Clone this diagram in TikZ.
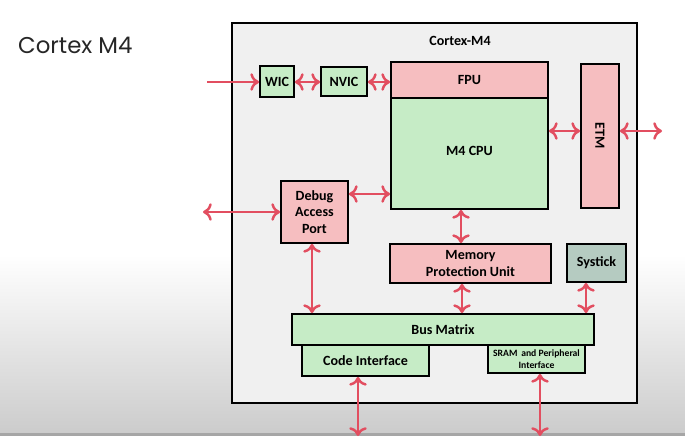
\documentclass[tikz,border=0pt]{standalone}
\usepackage{fontspec}
\setmainfont{Carlito}
\newfontfamily\slidefont{Poppins}
\usetikzlibrary{arrows.meta,fit}
\definecolor{cpink}{RGB}{246,190,192}
\definecolor{cgreen}{RGB}{198,236,198}
\definecolor{cgrey}{RGB}{181,203,193}
\definecolor{cred}{RGB}{226,78,96}
\definecolor{cbox}{RGB}{240,240,240}
\newcommand{\block}[5]
{   \node[draw, line width=1pt, fill=#1, inner sep=0pt, fit={(#3) (#4)}] (#2) {};
    \node[font=\bfseries\fontsize{8}{9.5}\selectfont, align=center] (#2-txt) at (#2.center) {#5};
}
\tikzset{>={Computer Modern Rightarrow[length=5pt,width=10pt]}}

\begin{document}
\begin{tikzpicture}[x=0.02cm, y=-0.02cm,
   link/.style={<->, draw=cred, line width=1.4pt}]

   \useasboundingbox (0,0) rectangle (685,436);
   \fill[white] (0,0) rectangle (685,436);
   \shade[top color=white, bottom color=black!20] (0,255) rectangle (685,433);
   \fill[black!35] (0,433) rectangle (685,436);
   \node[anchor=west, text=black!85, font=\slidefont\fontsize{13}{15}\selectfont] (slide) at (12,45) {Cortex M4};

   \draw[line width=1pt, fill=cbox] (232,23) rectangle (637,403);
   \node[font=\bfseries\fontsize{8}{9.5}\selectfont] (chip) at (460,41) {Cortex-M4};

   \block{cgreen}{wic}{260,66}{294,97}{WIC}
   \block{cgreen}{nvic}{321,67}{367,96}{NVIC}
   \block{cgreen}{cpu}{391,98}{548,209}{\raisebox{0.12cm}{M4 CPU}}
   \block{cpink}{fpu}{391,62}{548,98}{FPU}
   \block{cpink}{etm}{581,64}{619,208}{\rotatebox{-90}{ETM}}
   \block{cpink}{dap}{281,181}{348,243}{Debug\\Access\\Port}
   \block{cpink}{mpu}{390,244}{551,283}{Memory\\Protection Unit}
   \block{cgrey}{tick}{567,244}{626,282}{Systick}
   \block{cgreen}{bus}{292,314}{594,345}{Bus Matrix}
   \block{cgreen}{code}{302,345}{429,376}{Code Interface}
   \block{cgreen}{sram}{488,345}{585,373}{\fontsize{5.5}{6}\selectfont SRAM\, and Peripheral\\[-3pt]\fontsize{5.5}{6}\selectfont Interface}

   % outside ends
   \coordinate (irq) at (207,82);
   \coordinate (dbg) at (203,212);
   \coordinate (trace) at (662,131);
   \coordinate (codebus) at (358,436);
   \coordinate (sysbus) at (540,436);

   \draw[->, draw=cred, line width=1.4pt] (irq) -- (wic.west |- irq);
   \draw[link] (wic.east |- 0,82) -- (nvic.west |- 0,82);
   \draw[link] (nvic.east |- 0,82) -- (fpu.west |- 0,82);
   \draw[link] (dbg) -- (dap.west |- dbg);
   \draw[link] (dap.east |- 0,194) -- (cpu.west |- 0,194);
   \draw[link] (cpu.east |- 0,131) -- (etm.west |- 0,131);
   \draw[link] (etm.east |- trace) -- (trace);
   \draw[link] (cpu.south -| 461,0) -- (mpu.north -| 461,0);
   \draw[link] (dap.south -| 312,0) -- (bus.north -| 312,0);
   \draw[link] (mpu.south -| 462,0) -- (bus.north -| 462,0);
   \draw[link] (tick.south -| 586,0) -- (bus.north -| 586,0);
   \draw[link] (code.south -| codebus) -- (codebus);
   \draw[link] (sram.south -| sysbus) -- (sysbus);

\end{tikzpicture}
\end{document}
